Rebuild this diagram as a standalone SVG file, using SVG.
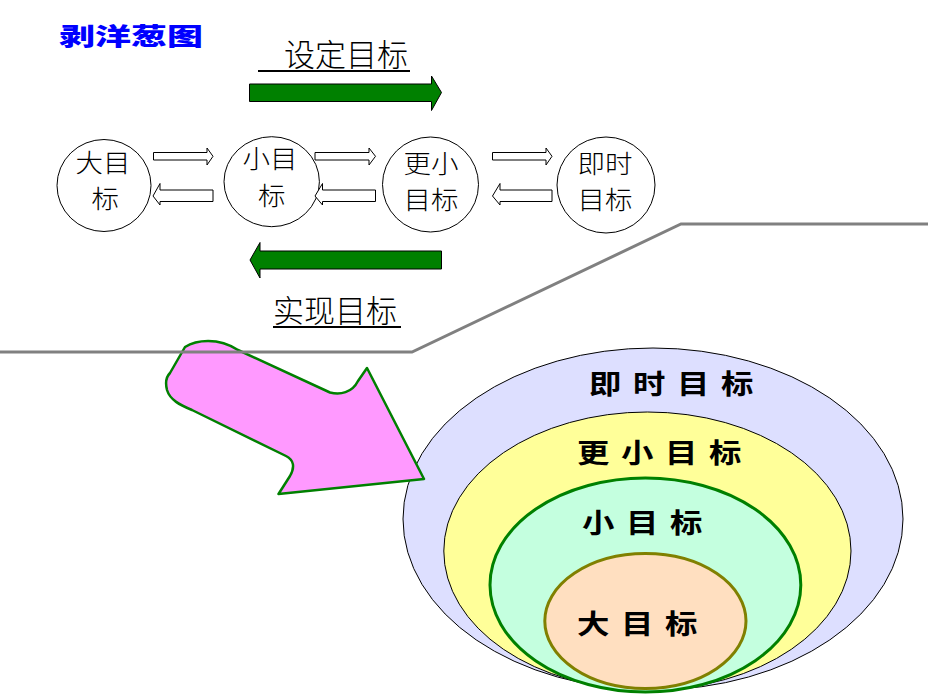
<svg xmlns="http://www.w3.org/2000/svg" width="928" height="696" viewBox="0 0 928 696">
<style>
.cjk{font-family:"Noto Sans CJK SC","Noto Sans",sans-serif}
.node ellipse{fill:#fff;stroke:#000;stroke-width:1}
.node text{font-size:25px;font-weight:300;fill:#000;text-anchor:middle}
.hollow{fill:#fff;stroke:#000;stroke-width:1}
.big{fill:#008000;stroke:#000;stroke-width:1}
.head{font-size:31px;font-weight:300;fill:#000}
.ul{stroke:#000;stroke-width:2}
.lbl{font-size:27px;font-weight:700;letter-spacing:9.7px;fill:#000}
</style>
<rect width="928" height="696" fill="#fff"/>
<text class="cjk" transform="translate(59,45) scale(1.5,1)" font-size="24" font-weight="900" fill="#0000FF">剥洋葱图</text>
<g id="goal-set">
<text class="cjk head" x="284" y="66">设定目标</text>
<line class="ul" x1="258" y1="71" x2="410" y2="71"/>
<path class="big" d="M249.5,84 H431.5 V76 L441.5,92.5 L431.5,110.5 V101.5 H249.5 Z"/>
</g>
<g id="goal-achieve">
<path class="big" d="M441.5,251 H260 V242.5 L250,260 L260,278 V269 H441.5 Z"/>
<text class="cjk head" x="273" y="322">实现目标</text>
<line class="ul" x1="273" y1="327" x2="401" y2="327"/>
</g>
<g id="n-big" class="node cjk">
<ellipse cx="104" cy="185.5" rx="47" ry="46"/>
<text transform="translate(103,0) scale(1.1,1)"><tspan x="0" y="172">大目</tspan><tspan x="2" y="208.5">标</tspan></text>
</g>
<g id="n-small" class="node cjk">
<ellipse cx="271.7" cy="181.7" rx="47.7" ry="45"/>
<text transform="translate(270,0) scale(1.1,1)"><tspan x="0" y="168.5">小目</tspan><tspan x="1.5" y="205">标</tspan></text>
</g>
<g id="n-smaller" class="node cjk">
<ellipse cx="430.5" cy="184.5" rx="48" ry="47.5"/>
<text transform="translate(431,0) scale(1.1,1)"><tspan x="0" y="173">更小</tspan><tspan x="0" y="209.5">目标</tspan></text>
</g>
<g id="n-now" class="node cjk">
<ellipse cx="606" cy="185" rx="49" ry="48"/>
<text transform="translate(605,0) scale(1.1,1)"><tspan x="0" y="173">即时</tspan><tspan x="0" y="209.5">目标</tspan></text>
</g>
<g id="connectors">
<path class="hollow" d="M153.5,152.5 H207 V148 L213,156.3 L207,165 V160 H153.5 Z"/>
<path class="hollow" d="M315,152.5 H369 V148 L375.5,156.3 L369,165 V160 H315 Z"/>
<path class="hollow" d="M492.5,152.5 H546 V148 L552,156.3 L546,165 V160 H492.5 Z"/>
<path class="hollow" d="M213,190 H160 V183.5 L153,196 L160,205 V201.5 H213 Z"/>
<path class="hollow" d="M375.5,190 H322.5 V183.5 L315,196 L322.5,205 V201.5 H375.5 Z"/>
<path class="hollow" d="M552,190 H500 V183.5 L492.5,196 L500,205 V201.5 H552 Z"/>
</g>
<g id="onion">
<ellipse cx="653" cy="519" rx="250" ry="171" fill="#DDDFFF" stroke="#000" stroke-width="1"/>
<ellipse cx="647.4" cy="551" rx="203.6" ry="139" fill="#FFFF99" stroke="#000" stroke-width="1"/>
<ellipse cx="645.4" cy="585" rx="155.4" ry="107" fill="#C4FFDF" stroke="#008000" stroke-width="3"/>
<ellipse cx="645.4" cy="621" rx="100.6" ry="67.4" fill="#FFDFC0" stroke="#808000" stroke-width="3"/>
<text class="cjk lbl" transform="translate(589,394) scale(1.2,1)">即时目标</text>
<text class="cjk lbl" transform="translate(577,463) scale(1.2,1)">更小目标</text>
<text class="cjk lbl" transform="translate(582,533) scale(1.2,1)">小目标</text>
<text class="cjk lbl" transform="translate(577,634) scale(1.2,1)">大目标</text>
</g>
<g id="pink-arrow">
<path d="M185,347 C196,340 218,337 238,350 L330,392.5 C340,395 352,393 358,381 L367,368 L424,479 L278.5,494 L290,476 C295,467 294,460 286,456 L192,410 C180,405 170,400 167,390 C165,382 166,377 170,373 Z" fill="#FF99FF" stroke="#008000" stroke-width="2.5" stroke-linejoin="round"/>
</g>
<polyline points="0,352 412,352 681,224 928,224" fill="none" stroke="#808080" stroke-width="3"/>
</svg>
